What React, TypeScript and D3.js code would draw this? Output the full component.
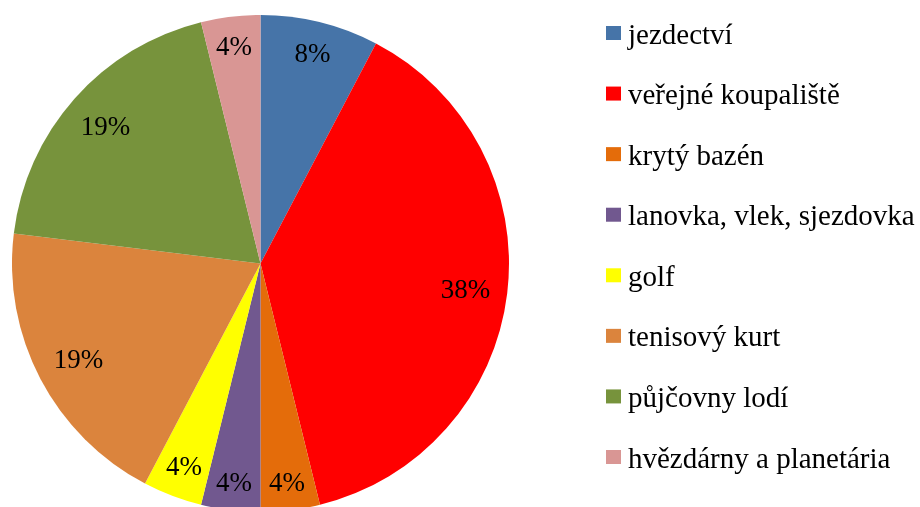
import React from "react";
import * as d3 from "d3";

const categories = [
  "jezdectví",
  "veřejné koupaliště",
  "krytý bazén",
  "lanovka, vlek, sjezdovka",
  "golf",
  "tenisový kurt",
  "půjčovny lodí",
  "hvězdárny a planetária",
];
const values = [2, 10, 1, 1, 1, 5, 5, 1];
const colors = ["#4674A8", "#FF0000", "#E46C0A", "#71588F", "#FFFF00", "#DB843D", "#77933C", "#D99694"];

const W = 920;
const H = 507;
const cx = 260.5;
const cy = 263.5;
const R = 248.5;
const labelFont = 27;
const legendFont = 29;

type D = { name: string; value: number; color: string };
const data: D[] = categories.map((c, i) => ({ name: c, value: values[i], color: colors[i] }));

function textWidth(s: string, fs: number) {
  let w = 0;
  for (const ch of s) w += ch === "%" ? 0.833 : 0.5;
  return w * fs;
}

export default function App() {
  const total = d3.sum(values);
  const pie = d3.pie<D>().value((d) => d.value).sort(null);
  const arcs = pie(data);
  const arc = d3.arc<d3.PieArcDatum<D>>().innerRadius(0).outerRadius(R);
  const fmt = (v: number) => `${Math.round((v / total) * 100)}%`;
  const limit = R - 16;

  const legendY = d3.scaleLinear().domain([0, categories.length - 1]).range([33, 457]);

  return (
    <svg width={W} height={H} style={{ position: "fixed", left: 0, top: 0 }}>
      <style>{`text.lbl { font-family: "Times New Roman", "Liberation Serif", Tinos; }`}</style>
      <g transform={`translate(${cx},${cy})`}>
        {arcs.map((a, i) => (
          <path key={i} d={arc(a) || ""} fill={a.data.color} />
        ))}
        {arcs.map((a, i) => {
          const mid = (a.startAngle + a.endAngle) / 2;
          const ux = Math.sin(mid);
          const uy = -Math.cos(mid);
          const label = fmt(a.data.value);
          const w = textWidth(label, labelFont);
          const h = labelFont * 0.75;
          let d = R;
          while (d > 0) {
            const x = ux * d;
            const y = uy * d;
            let m = 0;
            for (const sx of [-1, 1])
              for (const sy of [-1, 1]) {
                const px = x + (sx * w) / 2;
                const py = y + (sy * h) / 2;
                m = Math.max(m, Math.hypot(px, py));
              }
            if (m <= limit) break;
            d -= 0.5;
          }
          return (
            <text
              key={i}
              className="lbl"
              x={ux * d}
              y={uy * d + labelFont * 0.34}
              textAnchor="middle"
              fontFamily="Times New Roman"
              fontSize={labelFont}
              fill="#000"
            >
              {label}
            </text>
          );
        })}
      </g>
      <g>
        {categories.map((c, i) => (
          <g key={i} transform={`translate(606,${legendY(i)})`}>
            <rect x={0} y={-7} width={15} height={14} fill={colors[i]} />
            <text
              className="lbl"
              x={22}
              y={10.5}
              fontFamily="Times New Roman"
              fontSize={legendFont}
              fill="#000"
            >
              {c}
            </text>
          </g>
        ))}
      </g>
    </svg>
  );
}
